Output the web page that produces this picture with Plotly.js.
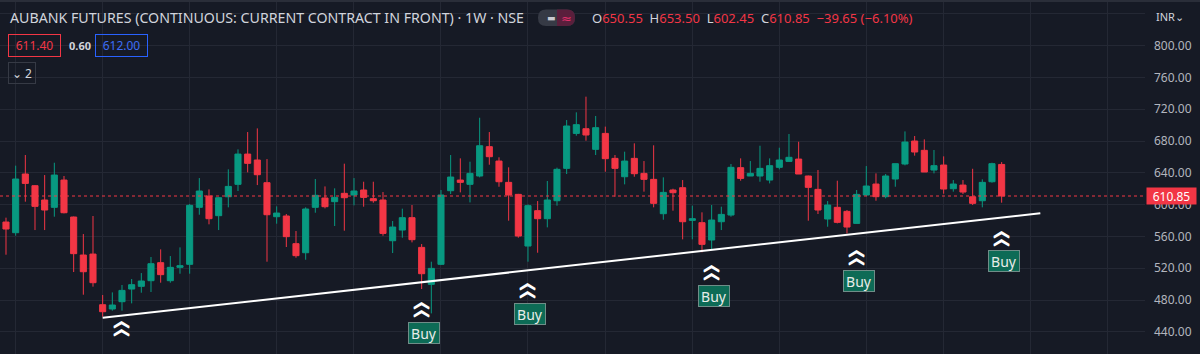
<!DOCTYPE html>
<html><head><meta charset="utf-8">
<script src="https://cdn.plot.ly/plotly-3.0.1.min.js"></script>
<style>html,body{margin:0;padding:0;background:#161a25;overflow:hidden}#chart{width:1200px;height:354px}</style>
</head><body><div id="chart"></div>
<script>
// ---- data (weekly candles) ----
const openP  = [578.1,564.7,638.5,623.8,605.8,596.6,630.9,584.4,536.6,537.8,474.1,468.7,477.9,493.8,497.2,504.3,527.0,504.3,521.1,524.9,596.6,610.8,586.1,609.9,625.5,663.6,656.1,627.6,584.8,585.7,550.9,539.5,596.6,608.3,603.7,614.2,612.1,618.4,607.5,605.8,554.6,568.0,583.6,546.2,499.7,524.9,617.5,630.9,625.5,636.0,672.9,654.8,628.0,612.9,547.9,592.4,582.3,604.9,645.6,689.6,695.5,669.5,689.6,658.2,635.1,658.2,639.3,631.8,588.6,618.4,621.3,580.2,577.3,555.5,578.5,586.9,646.5,636.0,636.0,630.9,646.9,654.4,657.3,636.0,619.2,581.9,596.6,591.5,576.4,612.1,625.9,610.0,632.2,651.1,680.0,668.3,643.5,649.8,620.0,624.6,609.9,604.9,628.8,650.55];
const highP  = [583.6,649.0,662.4,624.6,637.2,652.7,636.0,585.0,563.0,585.7,486.3,489.6,498.9,506.4,513.9,534.1,543.7,535.3,546.2,600.8,633.4,619.2,609.5,644.4,669.5,691.3,695.9,657.3,597.8,588.2,566.8,596.6,632.2,622.9,620.5,651.5,633.4,628.8,628.8,615.8,579.4,594.9,599.5,550.4,528.2,618.4,662.4,658.2,654.0,709.3,691.3,659.5,646.9,613.5,600.3,604.5,629.7,646.5,706.4,716.1,735.8,711.5,698.1,662.4,666.6,677.1,654.8,674.6,634.3,620.0,630.9,598.7,590.3,599.5,597.4,651.1,658.2,654.8,674.1,658.2,671.6,688.8,679.1,636.5,643.5,604.5,630.1,593.2,618.4,648.5,639.3,638.5,651.5,692.1,686.3,682.1,668.7,660.7,630.9,630.9,645.1,631.8,652.7,653.50];
const lowP   = [537.0,560.9,603.7,568.0,568.0,584.8,589.0,515.2,486.7,496.8,459.0,466.6,466.6,475.8,489.2,490.1,501.8,501.8,513.1,513.1,587.3,575.2,568.0,596.6,617.1,640.6,624.6,528.2,576.0,546.7,533.2,530.7,589.8,595.3,573.1,567.2,599.1,597.4,602.4,560.9,539.1,558.4,552.5,493.8,463.2,524.0,613.3,615.4,602.8,634.3,650.2,622.5,579.8,558.4,528.2,539.5,571.4,598.7,638.5,686.7,680.4,662.4,641.4,609.9,625.5,635.1,616.3,596.6,581.0,592.4,556.3,556.3,540.0,544.1,568.0,584.8,630.1,636.0,628.8,626.7,644.4,654.4,638.5,579.8,588.2,572.2,576.4,563.8,576.4,610.8,604.9,607.9,622.5,649.4,661.6,641.0,639.3,613.7,616.3,613.3,599.5,596.6,627.6,602.45];
const closeP = [569.3,632.2,626.7,597.8,593.2,637.2,589.8,538.3,515.6,501.8,465.3,473.7,492.1,499.3,503.9,525.7,511.9,521.1,523.2,599.1,617.1,582.3,608.7,622.9,663.6,651.9,637.6,587.3,589.4,559.7,535.8,594.5,611.7,597.4,609.1,608.7,617.1,609.1,604.9,563.8,571.8,583.6,555.9,513.1,519.8,612.1,634.7,628.0,639.3,674.1,660.3,628.8,612.1,560.5,598.7,582.3,605.8,644.4,698.9,700.6,687.6,696.8,657.8,645.6,654.8,638.9,631.8,601.6,615.4,615.0,578.5,582.3,550.0,580.6,587.7,646.9,633.0,639.3,645.6,649.0,656.1,659.5,638.5,621.7,593.2,599.5,577.7,571.8,612.9,623.4,610.0,636.0,651.5,678.7,666.2,641.0,649.0,619.6,625.9,615.8,601.6,628.0,651.5,610.85];
const weekIdx = openP.map((_, i) => i);
const lastPrice = 610.85;
const trendIdx = [10, 107];
const trendVal = [457.7, 589.1];
const buyIdx = [12, 43, 54, 73, 88, 103];
const buyLevel = [451.1, 474.3, 498.2, 520.9, 539.7, 564.3];
const buyLabelShown = [false, true, true, true, true, true];
const priceTicks = [440, 480, 520, 560, 600, 640, 680, 720, 760, 800, 840];
const monthGridIdx = [1, 10, 19, 28, 36, 45, 54, 62, 71, 80, 89, 97, 106, 114];

// ---- layout helpers (pixel -> paper) ----
const W = 1200, H = 354, PR = 55, PW = W - PR;
const px = p => p / PW;
const py = p => 1 - p / H;
const FONT = 'Noto Sans, DejaVu Sans, sans-serif';
const TXT = '#d1d4dc', RED = '#f23645', GREEN = '#089981';

function pill(x0, y0, x1, y1, r) {
  return 'M' + px(x0 + r) + ',' + py(y0) +
    ' L' + px(x1 - r) + ',' + py(y0) +
    ' Q' + px(x1) + ',' + py(y0) + ' ' + px(x1) + ',' + py(y0 + r) +
    ' L' + px(x1) + ',' + py(y1 - r) +
    ' Q' + px(x1) + ',' + py(y1) + ' ' + px(x1 - r) + ',' + py(y1) +
    ' L' + px(x0 + r) + ',' + py(y1) +
    ' Q' + px(x0) + ',' + py(y1) + ' ' + px(x0) + ',' + py(y1 - r) +
    ' L' + px(x0) + ',' + py(y0 + r) +
    ' Q' + px(x0) + ',' + py(y0) + ' ' + px(x0 + r) + ',' + py(y0) + ' Z';
}

const traces = [
  {
    type: 'candlestick', x: weekIdx, open: openP, high: highP, low: lowP, close: closeP,
    increasing: {line: {color: GREEN, width: 1}, fillcolor: GREEN},
    decreasing: {line: {color: RED, width: 1}, fillcolor: RED},
    whiskerwidth: 0, hoverinfo: 'skip', showlegend: false
  },
  {
    type: 'scatter', mode: 'lines', x: trendIdx, y: trendVal,
    line: {color: '#ffffff', width: 2}, hoverinfo: 'skip', showlegend: false
  }
];

const ann = [];
// header
ann.push({xref:'paper', yref:'paper', x: px(8), y: py(18), xanchor:'left', yanchor:'middle', showarrow:false,
  text:'AUBANK FUTURES (CONTINUOUS: CURRENT CONTRACT IN FRONT) · 1W · NSE', font:{family:FONT, size:14.2, color:TXT}});
const ohlc = 'O<span style="color:'+RED+'">650.55</span>  H<span style="color:'+RED+'">653.50</span>  L<span style="color:'+RED+'">602.45</span>  C<span style="color:'+RED+'">610.85</span>  <span style="color:'+RED+'">−39.65 (−6.10%)</span>';
ann.push({xref:'paper', yref:'paper', x: px(590), y: py(18), xanchor:'left', yanchor:'middle', showarrow:false,
  text: ohlc, font:{family:FONT, size:13, color:TXT}});
ann.push({xref:'paper', yref:'paper', x: px(551), y: py(17.5), xanchor:'center', yanchor:'middle', showarrow:false,
  text:'▬', font:{family:FONT, size:9, color:'#c9cbd1'}});
ann.push({xref:'paper', yref:'paper', x: px(566), y: py(17.5), xanchor:'center', yanchor:'middle', showarrow:false,
  text:'≈', font:{family:FONT, size:13, color:'#e0306a'}});
ann.push({xref:'paper', yref:'paper', x: px(8), y: py(45), xanchor:'left', yanchor:'middle', showarrow:false,
  text:'611.40', width:49, height:19, bordercolor:RED, borderwidth:1, borderpad:1, font:{family:FONT, size:12, color:RED}});
ann.push({xref:'paper', yref:'paper', x: px(67), y: py(45), xanchor:'left', yanchor:'middle', showarrow:false,
  text:'<b>0.60</b>', font:{family:FONT, size:11, color:TXT}});
ann.push({xref:'paper', yref:'paper', x: px(95), y: py(45), xanchor:'left', yanchor:'middle', showarrow:false,
  text:'612.00', width:49, height:19, bordercolor:'#2962ff', borderwidth:1, borderpad:1, font:{family:FONT, size:12, color:'#3d6df5'}});
ann.push({xref:'paper', yref:'paper', x: px(8), y: py(73), xanchor:'left', yanchor:'middle', showarrow:false,
  text:'⌄ 2', width:24, height:18, bordercolor:'#363a45', borderwidth:1, borderpad:1, font:{family:FONT, size:12, color:TXT}});
ann.push({xref:'paper', yref:'paper', x: px(1154), y: py(16), xanchor:'left', yanchor:'middle', showarrow:false,
  text:'INR⌄', font:{family:FONT, size:11, color:TXT}});
// last price label
ann.push({xref:'paper', yref:'y', x: 1, y: lastPrice, xanchor:'left', yanchor:'middle', xshift:1, showarrow:false,
  text:'610.85', width:49, height:16, borderpad:0, bgcolor:RED, font:{family:FONT, size:12, color:'#ffffff'}});
// buy signals (double chevron + label)
const chevFont = {family:'Noto Sans CJK SC, Noto Sans CJK JP, DejaVu Sans', size:17, color:'#ffffff', weight:'bold', shadow:'0 1px 0 #ffffff'};
buyIdx.forEach((bx, k) => {
  ann.push({x: bx, y: buyLevel[k], yshift: 5, showarrow:false, text:'︿', font: chevFont});
  ann.push({x: bx, y: buyLevel[k], yshift: -3, showarrow:false, text:'︿', font: chevFont});
  if (buyLabelShown[k]) {
    ann.push({x: bx, y: buyLevel[k], yshift: -28, xshift: 2, showarrow:false, text:'Buy', width:30, height:20, borderpad:0,
      bgcolor:'#0d6b56', bordercolor:'#6f8d88', borderwidth:1, font:{family:FONT, size:14, color:'#e8ece9'}});
  }
});

const shapes = [
  {type:'rect', xref:'paper', yref:'paper', x0:0, x1: W/PW, y0: py(2), y1: 1, fillcolor:'#2a2e39', line:{width:0}},
  {type:'line', xref:'paper', yref:'y', x0:0, x1:1, y0:lastPrice, y1:lastPrice, line:{color:RED, width:1, dash:'dot'}},
  {type:'path', xref:'paper', yref:'paper', path: pill(538, 9.5, 575, 26, 8), fillcolor:'#363a45', line:{width:0}},
  {type:'path', xref:'paper', yref:'paper', path: 'M'+px(557)+','+py(9.5)+' L'+px(567)+','+py(9.5)+' Q'+px(575)+','+py(9.5)+' '+px(575)+','+py(17.75)+' Q'+px(575)+','+py(26)+' '+px(567)+','+py(26)+' L'+px(557)+','+py(26)+' Z', fillcolor:'#5a1f3c', line:{width:0}}
];

const layout = {
  width: W, height: H, margin: {l:0, r:PR, t:0, b:0, pad:0},
  paper_bgcolor: '#161a25', plot_bgcolor: '#161a25',
  boxgap: 0.1, boxgroupgap: 0.3,
  showlegend: false, dragmode: false, hovermode: false,
  xaxis: {range: [-0.62, 117.83], tickvals: monthGridIdx, showticklabels: false, ticks: '',
    showgrid: true, gridcolor: '#242834', gridwidth: 1, zeroline: false, showline: false,
    rangeslider: {visible: false}, fixedrange: true},
  yaxis: {range: [412.1, 857.4], side: 'right', tickvals: priceTicks,
    ticktext: priceTicks.map(v => v === 840 ? '' : v.toFixed(2)),
    showgrid: true, gridcolor: '#242834', gridwidth: 1, zeroline: false, showline: false, ticks: '',
    ticklabelstandoff: 8, tickfont: {family: FONT, size: 12, color: '#b2b5be'}, fixedrange: true},
  annotations: ann,
  shapes: shapes
};
Plotly.newPlot('chart', traces, layout, {displayModeBar: false, staticPlot: true});
</script></body></html>
